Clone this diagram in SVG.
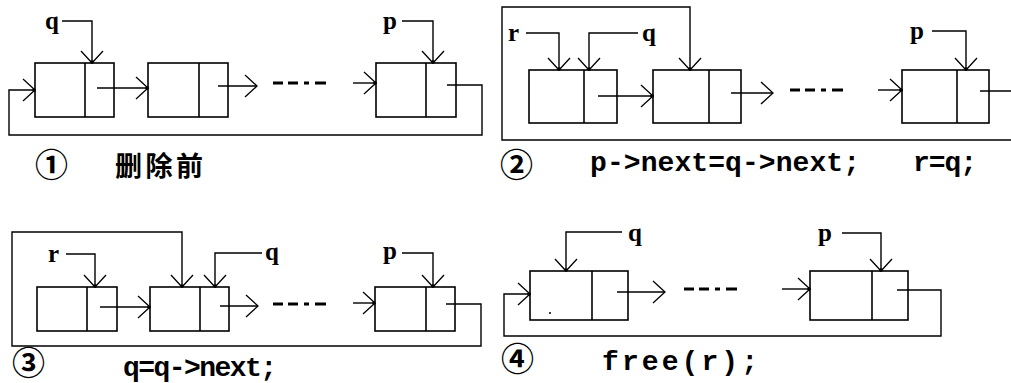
<svg xmlns="http://www.w3.org/2000/svg" width="1011" height="383" viewBox="0 0 1011 383">
<style>
.n{fill:#fff;stroke:#000;stroke-width:1.6}
.d{stroke:#000;stroke-width:1.6}
.c{fill:none;stroke:#000;stroke-width:1.4}
.a{marker-end:url(#ad)}
.b{marker-end:url(#ao)}
.dash{stroke:#000;stroke-width:3;stroke-dasharray:10 5 10 6 5 6 11 40}
.lb{font-family:"Liberation Serif",serif;font-weight:bold;font-size:25px;fill:#000}
.code{font-family:"Liberation Mono",monospace;font-weight:bold;font-size:28px;fill:#000}
.num{font-family:"Noto Sans CJK SC","DejaVu Sans",sans-serif;font-weight:bold;font-size:33px;fill:#000}
.cn{font-family:"Noto Sans CJK SC",sans-serif;font-weight:bold;font-size:27px;fill:#000}
</style>
<defs>
<marker id="ad" markerUnits="userSpaceOnUse" orient="auto" markerWidth="30" markerHeight="30" refX="0" refY="0" viewBox="-15 -15 30 30" overflow="visible">
<path d="M-12,-11 L0,0 L-12,11" fill="none" stroke="#000" stroke-width="1.3"/>
<circle cx="-1" cy="0" r="1.8" fill="#000"/>
</marker>
<marker id="ao" markerUnits="userSpaceOnUse" orient="auto" markerWidth="30" markerHeight="30" refX="0" refY="0" viewBox="-15 -15 30 30" overflow="visible">
<path d="M-12,-11 L0,0 L-12,11" fill="none" stroke="#000" stroke-width="1.3"/>
</marker>
</defs>
<rect width="1011" height="383" fill="#fff"/>

<!-- Panel 1 -->
<g id="p1-node1"><rect class="n" x="35" y="63" width="79" height="54"/><line class="d" x1="85" y1="63" x2="85" y2="117"/></g>
<g id="p1-node2"><rect class="n" x="148" y="63" width="80" height="54"/><line class="d" x1="199" y1="63" x2="199" y2="117"/></g>
<g id="p1-node3"><rect class="n" x="376" y="63" width="80" height="54"/><line class="d" x1="426" y1="63" x2="426" y2="117"/></g>
<g id="p1-labels">
<text class="lb" x="45" y="29">q</text>
<text class="lb" x="383" y="29">p</text>
<text class="num" x="35" y="177">①</text>
<text class="cn" x="115" y="176" textLength="88" lengthAdjust="spacing">删除前</text>
</g>
<g id="p1-connectors">
<polyline class="c a" points="62,21 92,21 92,63"/>
<polyline class="c a" points="402,21 433,21 433,63"/>
<line class="c a" x1="97" y1="88" x2="148" y2="88"/>
<line class="c b" x1="218" y1="86" x2="257" y2="86"/>
<line class="dash" x1="273" y1="83" x2="328" y2="83"/>
<line class="c a" x1="353" y1="83" x2="376" y2="83"/>
<polyline class="c a" points="447,85 482,85 482,135 9,135 9,90 35,90"/>
</g>

<!-- Panel 2 -->
<g id="p2-node1"><rect class="n" x="529" y="70" width="88" height="53"/><line class="d" x1="584" y1="70" x2="584" y2="123"/></g>
<g id="p2-node2"><rect class="n" x="653" y="70" width="88" height="53"/><line class="d" x1="709" y1="70" x2="709" y2="123"/></g>
<g id="p2-node3"><rect class="n" x="902" y="70" width="87" height="53"/><line class="d" x1="957" y1="70" x2="957" y2="123"/></g>
<g id="p2-labels">
<text class="lb" x="508" y="41">r</text>
<text class="lb" x="642" y="41">q</text>
<text class="lb" x="910" y="39">p</text>
<text class="num" x="500" y="177">②</text>
<text class="code" x="590" y="171" textLength="270" lengthAdjust="spacing">p-&gt;next=q-&gt;next;</text>
<text class="code" x="913" y="171" textLength="64" lengthAdjust="spacing">r=q;</text>
</g>
<g id="p2-connectors">
<polyline class="c a" points="526,33 559,33 559,70"/>
<polyline class="c a" points="638,33 589,33 589,70"/>
<polyline class="c a" points="932,31 966,31 966,70"/>
<line class="c a" x1="598" y1="96" x2="653" y2="96"/>
<line class="c b" x1="731" y1="93" x2="773" y2="93"/>
<line class="dash" x1="790" y1="90" x2="850" y2="90"/>
<line class="c a" x1="878" y1="90" x2="902" y2="90"/>
<polyline class="c a" points="980,91 1014,91 1014,140 502,140 502,7 690,7 690,70"/>
</g>

<!-- Panel 3 -->
<g id="p3-node1"><rect class="n" x="37" y="287" width="80" height="44"/><line class="d" x1="87" y1="287" x2="87" y2="331"/></g>
<g id="p3-node2"><rect class="n" x="150" y="287" width="79" height="44"/><line class="d" x1="200" y1="287" x2="200" y2="331"/></g>
<g id="p3-node3"><rect class="n" x="375" y="287" width="80" height="44"/><line class="d" x1="426" y1="287" x2="426" y2="331"/></g>
<g id="p3-labels">
<text class="lb" x="48" y="262">r</text>
<text class="lb" x="265" y="260">q</text>
<text class="lb" x="383" y="259">p</text>
<text class="num" x="12" y="375" font-size="26">③</text>
<text class="code" x="123" y="376" font-size="26" textLength="154" lengthAdjust="spacing">q=q-&gt;next;</text>
</g>
<g id="p3-connectors">
<polyline class="c a" points="66,254 95,254 95,287"/>
<polyline class="c a" points="262,253 215,253 215,287"/>
<polyline class="c a" points="402,253 433,253 433,287"/>
<line class="c a" x1="100" y1="307" x2="150" y2="307"/>
<line class="c b" x1="220" y1="306" x2="258" y2="306"/>
<line class="dash" x1="273" y1="304" x2="328" y2="304"/>
<line class="c a" x1="353" y1="303" x2="375" y2="303"/>
<polyline class="c a" points="446,304 481,304 481,346 12,346 12,232 182,232 182,287"/>
</g>

<!-- Panel 4 -->
<g id="p4-node1"><rect class="n" x="530" y="271" width="98" height="49"/><line class="d" x1="592" y1="271" x2="592" y2="320"/><circle cx="550" cy="313" r="1" fill="#000"/></g>
<g id="p4-node2"><rect class="n" x="810" y="271" width="98" height="49"/><line class="d" x1="872" y1="271" x2="872" y2="320"/></g>
<g id="p4-labels">
<text class="lb" x="628" y="241">q</text>
<text class="lb" x="818" y="241">p</text>
<text class="num" x="501" y="371">④</text>
<text class="code" x="602" y="370" font-size="32" textLength="156" lengthAdjust="spacing">free(r);</text>
</g>
<g id="p4-connectors">
<polyline class="c a" points="622,232 566,232 566,271"/>
<polyline class="c a" points="842,233 881,233 881,271"/>
<line class="c b" x1="617" y1="292" x2="665" y2="292"/>
<line class="dash" x1="684" y1="289" x2="752" y2="289"/>
<line class="c a" x1="782" y1="289" x2="810" y2="289"/>
<polyline class="c a" points="897,290 941,290 941,336 504,336 504,294 530,294"/>
</g>
</svg>
